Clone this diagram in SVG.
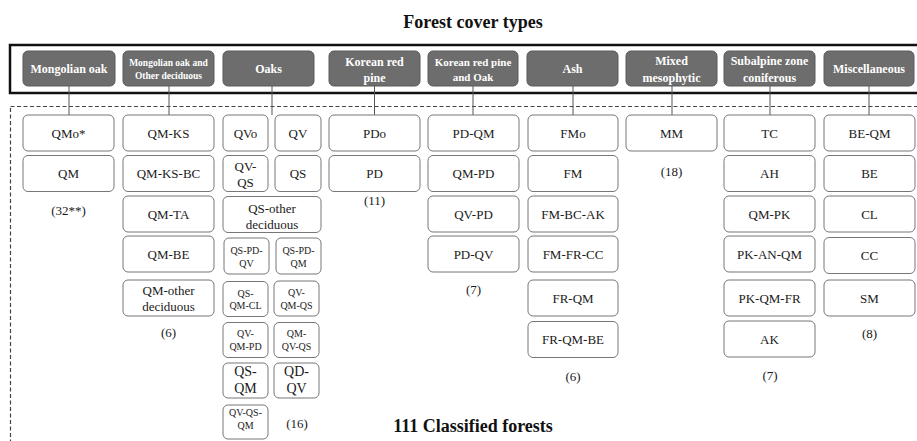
<svg xmlns="http://www.w3.org/2000/svg" width="917" height="441" viewBox="0 0 917 441">
<style>
text{font-family:"Liberation Serif","Times New Roman",serif;text-anchor:middle;fill:#1a1a1a}
.t{font-weight:bold;font-size:18px;fill:#111}
.h rect{fill:#6d6d6d;stroke:#5a5a5a;stroke-width:1}
.h text{fill:#fff;font-weight:bold;font-size:12px}
.h text.s{font-size:9.5px}
.h text.m{font-size:11px}
.c rect{fill:#fff;stroke:#777;stroke-width:1}
.c text{font-size:13px}
.c text.sm{font-size:10px}
.c text.lg{font-size:14px}
.n{font-size:13px}
#connectors line{stroke:#555;stroke-width:1}
</style>
<rect width="917" height="441" fill="#fff"/>
<text class="t" x="473" y="28">Forest cover types</text>
<rect x="10" y="45" width="920" height="48" fill="none" stroke="#111" stroke-width="2.5"/>
<rect x="10.5" y="106.5" width="920" height="360" fill="none" stroke="#444" stroke-width="1.2" stroke-dasharray="4,2.5"/>
<g id="connectors">
<line x1="69" y1="86" x2="69" y2="115"/>
<line x1="169" y1="86" x2="169" y2="115"/>
<line x1="272" y1="86" x2="272" y2="115"/>
<line x1="374.5" y1="86" x2="374.5" y2="115"/>
<line x1="473" y1="86" x2="473" y2="115"/>
<line x1="573" y1="86" x2="573" y2="115"/>
<line x1="672" y1="86" x2="672" y2="115"/>
<line x1="770" y1="86" x2="770" y2="115"/>
<line x1="869" y1="86" x2="869" y2="115"/>
</g>
<g id="headers" class="h">
<g id="h-mongolian-oak"><rect x="23" y="51" width="92" height="35" rx="5"/><text x="69" y="73">Mongolian oak</text></g>
<g id="h-mongolian-oak-other"><rect x="123" y="51" width="91" height="35" rx="5"/><text class="s" x="168.5" y="66">Mongolian oak and</text><text class="s" x="168.5" y="79">Other deciduous</text></g>
<g id="h-oaks"><rect x="223" y="51" width="91" height="35" rx="5"/><text x="268.5" y="73">Oaks</text></g>
<g id="h-korean-red-pine"><rect x="329" y="51" width="91" height="35" rx="5"/><text x="374.5" y="66">Korean red</text><text x="374.5" y="82">pine</text></g>
<g id="h-korean-red-pine-oak"><rect x="428" y="51" width="90" height="35" rx="5"/><text class="m" x="473" y="66">Korean red pine</text><text class="m" x="473" y="81">and Oak</text></g>
<g id="h-ash"><rect x="527" y="51" width="91" height="35" rx="5"/><text x="572.5" y="73">Ash</text></g>
<g id="h-mixed"><rect x="626" y="51" width="91" height="35" rx="5"/><text x="671.5" y="65">Mixed</text><text x="671.5" y="82">mesophytic</text></g>
<g id="h-subalpine"><rect x="724" y="51" width="91" height="35" rx="5"/><text x="769.5" y="65">Subalpine zone</text><text x="769.5" y="82">coniferous</text></g>
<g id="h-misc"><rect x="824" y="51" width="90" height="35" rx="5"/><text x="869" y="73">Miscellaneous</text></g>
</g>
<g id="children" class="c">
<!-- column 1 -->
<g id="n-QMo"><rect x="23" y="115" width="91" height="36" rx="5"/><text x="68.5" y="137.5">QMo*</text></g>
<g id="n-QM"><rect x="23" y="155.5" width="91" height="36" rx="5"/><text x="68.5" y="178">QM</text></g>
<!-- column 2 -->
<g id="n-QM-KS"><rect x="123" y="115" width="91" height="36" rx="5"/><text x="168.5" y="137.5">QM-KS</text></g>
<g id="n-QM-KS-BC"><rect x="123" y="155.5" width="91" height="36" rx="5"/><text x="168.5" y="178">QM-KS-BC</text></g>
<g id="n-QM-TA"><rect x="123" y="196" width="91" height="36" rx="5"/><text x="168.5" y="218.5">QM-TA</text></g>
<g id="n-QM-BE"><rect x="123" y="236" width="91" height="36" rx="5"/><text x="168.5" y="258.5">QM-BE</text></g>
<g id="n-QM-other"><rect x="123" y="280" width="91" height="36" rx="5"/><text x="168.5" y="294.5">QM-other</text><text x="168.5" y="311">deciduous</text></g>
<!-- oaks -->
<g id="n-QVo"><rect x="223" y="115" width="45" height="36" rx="5"/><text x="245.5" y="137.5">QVo</text></g>
<g id="n-QV"><rect x="275" y="115" width="46" height="36" rx="5"/><text x="298" y="137.5">QV</text></g>
<g id="n-QV-QS"><rect x="223" y="155.5" width="45" height="36" rx="5"/><text x="245.5" y="171">QV-</text><text x="245.5" y="186.5">QS</text></g>
<g id="n-QS"><rect x="275" y="155.5" width="46" height="36" rx="5"/><text x="298" y="178">QS</text></g>
<g id="n-QS-other"><rect x="223" y="196.5" width="98" height="36" rx="5"/><text x="272" y="212.5">QS-other</text><text x="272" y="228.5">deciduous</text></g>
<g id="n-QS-PD-QV"><rect x="224" y="238" width="45" height="36" rx="5"/><text class="sm" x="246.5" y="253.5">QS-PD-</text><text class="sm" x="246.5" y="266.5">QV</text></g>
<g id="n-QS-PD-QM"><rect x="276" y="238" width="45" height="36" rx="5"/><text class="sm" x="298.5" y="253.5">QS-PD-</text><text class="sm" x="298.5" y="266.5">QM</text></g>
<g id="n-QS-QM-CL"><rect x="223" y="281.5" width="45" height="35" rx="5"/><text class="sm" x="245.5" y="296.5">QS-</text><text class="sm" x="245.5" y="309">QM-CL</text></g>
<g id="n-QV-QM-QS"><rect x="274" y="281" width="45" height="35" rx="5"/><text class="sm" x="296.5" y="296">QV-</text><text class="sm" x="296.5" y="308.5">QM-QS</text></g>
<g id="n-QV-QM-PD"><rect x="223" y="322.5" width="45" height="35" rx="5"/><text class="sm" x="245.5" y="337">QV-</text><text class="sm" x="245.5" y="350">QM-PD</text></g>
<g id="n-QM-QV-QS"><rect x="274" y="322.5" width="45" height="35" rx="5"/><text class="sm" x="296.5" y="337">QM-</text><text class="sm" x="296.5" y="350">QV-QS</text></g>
<g id="n-QS-QM"><rect x="223" y="363" width="45" height="35" rx="5"/><text class="lg" x="245.5" y="375.5">QS-</text><text class="lg" x="245.5" y="393">QM</text></g>
<g id="n-QD-QV"><rect x="274" y="363" width="45" height="35" rx="5"/><text class="lg" x="296.5" y="375.5">QD-</text><text class="lg" x="296.5" y="393">QV</text></g>
<g id="n-QV-QS-QM"><rect x="223" y="405" width="45" height="34" rx="5"/><text class="sm" x="245.5" y="416">QV-QS-</text><text class="sm" x="245.5" y="429">QM</text></g>
<!-- korean red pine -->
<g id="n-PDo"><rect x="329" y="115" width="91" height="36" rx="5"/><text x="374.5" y="137.5">PDo</text></g>
<g id="n-PD"><rect x="329" y="155.5" width="91" height="36" rx="5"/><text x="374.5" y="178">PD</text></g>
<!-- korean red pine and oak -->
<g id="n-PD-QM"><rect x="428" y="115" width="91" height="36" rx="5"/><text x="473.5" y="137.5">PD-QM</text></g>
<g id="n-QM-PD"><rect x="428" y="155.5" width="91" height="36" rx="5"/><text x="473.5" y="178">QM-PD</text></g>
<g id="n-QV-PD"><rect x="428" y="196" width="91" height="36" rx="5"/><text x="473.5" y="218.5">QV-PD</text></g>
<g id="n-PD-QV"><rect x="428" y="236" width="91" height="36" rx="5"/><text x="473.5" y="258.5">PD-QV</text></g>
<!-- ash -->
<g id="n-FMo"><rect x="528" y="115" width="90" height="36" rx="5"/><text x="573" y="137.5">FMo</text></g>
<g id="n-FM"><rect x="528" y="155.5" width="90" height="36" rx="5"/><text x="573" y="178">FM</text></g>
<g id="n-FM-BC-AK"><rect x="528" y="196" width="90" height="36" rx="5"/><text x="573" y="218.5">FM-BC-AK</text></g>
<g id="n-FM-FR-CC"><rect x="528" y="236" width="90" height="36" rx="5"/><text x="573" y="258.5">FM-FR-CC</text></g>
<g id="n-FR-QM"><rect x="528" y="280" width="90" height="36" rx="5"/><text x="573" y="302.5">FR-QM</text></g>
<g id="n-FR-QM-BE"><rect x="528" y="321.5" width="90" height="36" rx="5"/><text x="573" y="344">FR-QM-BE</text></g>
<!-- mixed -->
<g id="n-MM"><rect x="626" y="115" width="91" height="36" rx="5"/><text x="671.5" y="137.5">MM</text></g>
<!-- subalpine -->
<g id="n-TC"><rect x="724" y="115" width="91" height="36" rx="5"/><text x="769.5" y="137.5">TC</text></g>
<g id="n-AH"><rect x="724" y="155.5" width="91" height="36" rx="5"/><text x="769.5" y="178">AH</text></g>
<g id="n-QM-PK"><rect x="724" y="196" width="91" height="36" rx="5"/><text x="769.5" y="218.5">QM-PK</text></g>
<g id="n-PK-AN-QM"><rect x="724" y="236" width="91" height="36" rx="5"/><text x="769.5" y="258.5">PK-AN-QM</text></g>
<g id="n-PK-QM-FR"><rect x="724" y="280" width="91" height="36" rx="5"/><text x="769.5" y="302.5">PK-QM-FR</text></g>
<g id="n-AK"><rect x="724" y="321" width="91" height="36" rx="5"/><text x="769.5" y="343.5">AK</text></g>
<!-- misc -->
<g id="n-BE-QM"><rect x="824" y="115" width="91" height="36" rx="5"/><text x="869.5" y="137.5">BE-QM</text></g>
<g id="n-BE"><rect x="824" y="155.5" width="91" height="36" rx="5"/><text x="869.5" y="178">BE</text></g>
<g id="n-CL"><rect x="824" y="196" width="91" height="36" rx="5"/><text x="869.5" y="218.5">CL</text></g>
<g id="n-CC"><rect x="824" y="237.5" width="91" height="36" rx="5"/><text x="869.5" y="260">CC</text></g>
<g id="n-SM"><rect x="824" y="280" width="91" height="36" rx="5"/><text x="869.5" y="302.5">SM</text></g>
</g>
<g id="counts">
<text class="n" x="68.5" y="214.5">(32**)</text>
<text class="n" x="168.5" y="336.5">(6)</text>
<text class="n" x="297" y="427.5">(16)</text>
<text class="n" x="374.5" y="204.5">(11)</text>
<text class="n" x="473.5" y="293.5">(7)</text>
<text class="n" x="573" y="381">(6)</text>
<text class="n" x="671.5" y="175.5">(18)</text>
<text class="n" x="770" y="379.5">(7)</text>
<text class="n" x="869.5" y="337.5">(8)</text>
</g>
<text class="t" x="473" y="432">111 Classified forests</text>
</svg>
